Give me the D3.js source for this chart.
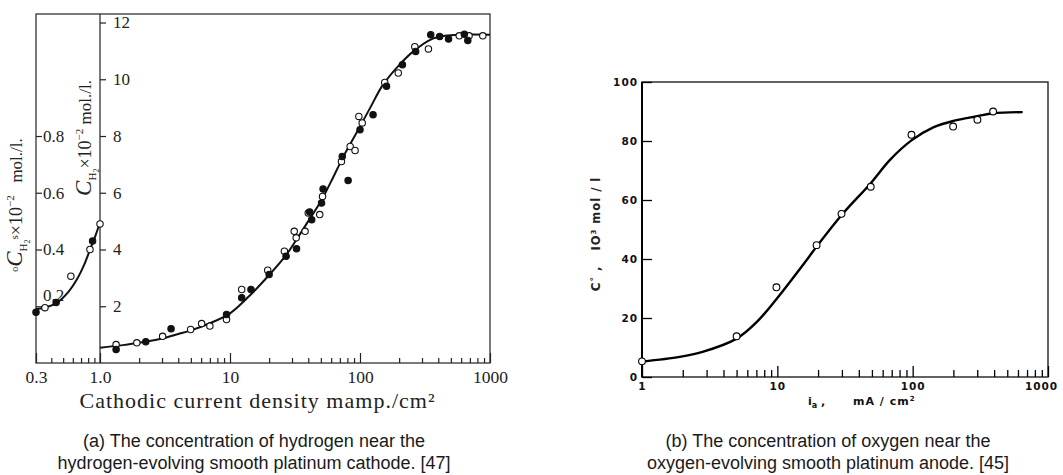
<!DOCTYPE html>
<html>
<head>
<meta charset="utf-8">
<title>Hydrogen and oxygen near platinum electrodes</title>
<script src="https://cdnjs.cloudflare.com/ajax/libs/d3/7.8.5/d3.min.js"></script>
<style>
  body { margin: 0; background: #fff; }
  svg { display: block; }
</style>
</head>
<body>
<svg id="chart" width="1063" height="475"></svg>
<script>
// ---- data ----
// panel (a), low part 0.3 - 1.0 mamp/cm2 (left axis, mol/l x10^-2 scaled by 10)
var aLowCurve = [[0.3,0.19],[0.35,0.195],[0.44,0.211],[0.55,0.25],[0.65,0.296],[0.74,0.345],[0.83,0.40],[0.92,0.45],[1.0,0.495]];
var aLowOpen = [[0.355,0.195],[0.578,0.306],[0.828,0.40],[1.0,0.49]];
var aLowFilled = [[0.30,0.179],[0.438,0.213],[0.87,0.43]];

// panel (a), 1 - 1000 mamp/cm2 (inner axis)
var aCurve = [[1,0.54],[1.5,0.63],[2,0.71],[3,0.86],[4,1.02],[5,1.15],[7,1.4],[10,1.75],[14,2.35],[20,3.1],[27,3.8],[33,4.4],[40,5.0],[50,5.7],[60,6.4],[75,7.3],[95,8.15],[120,9.0],[150,9.8],[200,10.5],[260,11.0],[350,11.4],[450,11.53],[600,11.57],[1000,11.57]];
var aOpen = [[1.33,0.65],[1.92,0.71],[3.03,0.94],[4.98,1.18],[6.05,1.39],[7.0,1.30],[9.4,1.53],[12.3,2.59],[19.5,3.27],[26.2,3.94],[31.2,4.64],[32.3,4.41],[37.8,4.64],[40,5.29],[49,5.23],[51.5,5.87],[72,7.1],[84,7.63],[91.6,7.49],[98,8.69],[104,8.46],[155,9.89],[197,10.22],[264,11.15],[336,11.07],[580,11.53],[690,11.53],[880,11.53]];
var aFilled = [[1.33,0.48],[2.25,0.75],[3.52,1.21],[9.4,1.71],[12.3,2.3],[14.5,2.59],[20,3.12],[27,3.76],[32.5,4.03],[41,5.32],[42.5,5.05],[50.6,5.64],[52,6.13],[73,7.28],[81,6.43],[100,8.22],[126,8.75],[160,9.75],[212,10.51],[268,10.98],[350,11.57],[410,11.51],[480,11.42],[635,11.59],[675,11.37]];

var aXTicksLow = [0.3], aXLabelsLow = ["0.3"];
var aXTicks = [1, 10, 100, 1000], aXLabels = ["1.0", "10", "100", "1000"];
var aYTicksLow = [0.2, 0.4, 0.6, 0.8];
var aYTicks = [2, 4, 6, 8, 10, 12];

// panel (b)
var bCurve = [[1,5.2],[1.9,6.8],[2.8,8.5],[5,13],[7,18.5],[10,26.8],[16.8,40.2],[19.5,44.2],[30,55],[49,65.7],[68,73.6],[98,80.2],[142,84.6],[200,86.8],[300,88.4],[393,89.4],[650,89.8]];
var bOpen = [[1,5.3],[5,13.8],[9.85,30.4],[19.5,44.7],[29.8,55.3],[49,64.5],[98,82.1],[199,84.9],[301,87.2],[393,90.0]];
var bXTicks = [1, 10, 100, 1000], bXLabels = ["1", "10", "100", "1000"];
var bYTicks = [0, 20, 40, 60, 80, 100];

var captionA = ["(a) The concentration of hydrogen near the", "hydrogen-evolving smooth platinum cathode. [47]"];
var captionB = ["(b) The concentration of oxygen near the", "oxygen-evolving smooth platinum anode. [45]"];

var svg = d3.select("#chart");
var serif = "'Liberation Serif', 'DejaVu Serif', serif";
var sans = "'Liberation Sans', Arial, sans-serif";
var bold = "'DejaVu Sans', sans-serif";

function isPow10(d) { return Math.abs(Math.log10(d) - Math.round(Math.log10(d))) < 1e-9; }

// ================= panel (a) =================
var xLow = d3.scaleLog().domain([0.3, 1]).range([36, 100]);
var xHigh = d3.scaleLog().domain([1, 1000]).range([100, 490]);
var yHigh = d3.scaleLinear().domain([0, 12.3]).range([363, 14]);
var yLow = d3.scaleLinear().domain([0, 1.23]).range([363, 14]);

var ga = svg.append("g").style("color", "#222");

// frame
ga.append("rect")
  .attr("x", xLow.range()[0]).attr("y", yHigh.range()[1])
  .attr("width", xHigh.range()[1] - xLow.range()[0])
  .attr("height", yHigh.range()[0] - yHigh.range()[1])
  .attr("fill", "none").attr("stroke", "#333").attr("stroke-width", 1.3);
// inner axis at 1.0
ga.append("line")
  .attr("x1", xHigh(1)).attr("x2", xHigh(1))
  .attr("y1", yHigh.range()[0]).attr("y2", yHigh.range()[1])
  .attr("stroke", "#333").attr("stroke-width", 1.3);

function styleAxis(g, size, family) {
  g.select(".domain").remove();
  g.attr("font-size", null).attr("font-family", null);
  g.selectAll("text").style("font-size", size + "px").style("font-family", family).attr("fill", "#222");
  g.selectAll("line").attr("stroke-width", 1.2);
}

var y0a = yHigh.range()[0];
// bottom minor ticks
ga.append("g").attr("transform", "translate(0," + y0a + ")")
  .call(d3.axisBottom(xLow).tickValues(xLow.ticks().filter(function (d) { return d > 0.3 && d < 1; })).tickSize(-5).tickFormat(""))
  .call(function (g) { styleAxis(g, 16, serif); });
ga.append("g").attr("transform", "translate(0," + y0a + ")")
  .call(d3.axisBottom(xHigh).tickValues(xHigh.ticks().filter(function (d) { return !isPow10(d); })).tickSize(-5).tickFormat(""))
  .call(function (g) { styleAxis(g, 16, serif); });
// bottom major ticks + labels
ga.append("g").attr("transform", "translate(0," + y0a + ")")
  .call(d3.axisBottom(xLow).tickValues(aXTicksLow).tickSize(-10).tickPadding(8).tickFormat(function (d, i) { return aXLabelsLow[i]; }))
  .call(function (g) { styleAxis(g, 17.5, serif); });
ga.append("g").attr("transform", "translate(0," + y0a + ")")
  .call(d3.axisBottom(xHigh).tickValues(aXTicks).tickSize(-10).tickPadding(8).tickFormat(function (d, i) { return aXLabels[i]; }))
  .call(function (g) { styleAxis(g, 17.5, serif); });

// left axis (low part)
ga.append("g").attr("transform", "translate(" + xLow.range()[0] + ",0)")
  .call(d3.axisRight(yLow).tickValues(aYTicksLow).tickSize(6).tickPadding(1).tickFormat(d3.format(".1f")))
  .call(function (g) {
    styleAxis(g, 17, serif);
    g.selectAll(".tick text").filter(function (d) { return d === 0.2; }).attr("y", -11);
  });
// inner axis
ga.append("g").attr("transform", "translate(" + xHigh(1) + ",0)")
  .call(d3.axisRight(yHigh).tickValues(aYTicks).tickSize(6).tickPadding(7))
  .call(function (g) { styleAxis(g, 17, serif); });

// curves
var smooth = d3.curveCatmullRom.alpha(0.5);
var lineLow = d3.line().x(function (d) { return xLow(d[0]); }).y(function (d) { return yLow(d[1]); }).curve(smooth);
var lineHigh = d3.line().x(function (d) { return xHigh(d[0]); }).y(function (d) { return yHigh(d[1]); }).curve(smooth);
ga.append("path").attr("d", lineLow(aLowCurve)).attr("fill", "none").attr("stroke", "#111").attr("stroke-width", 2);
ga.append("path").attr("d", lineHigh(aCurve)).attr("fill", "none").attr("stroke", "#111").attr("stroke-width", 2);

function dots(g, data, x, y, filled, r) {
  g.append("g").selectAll("circle").data(data).enter().append("circle")
    .attr("cx", function (d) { return x(d[0]); })
    .attr("cy", function (d) { return y(d[1]); })
    .attr("r", r)
    .attr("fill", filled ? "#111" : "#fff")
    .attr("stroke", "#111").attr("stroke-width", 1.1);
}
dots(ga, aLowOpen, xLow, yLow, false, 3.2);
dots(ga, aLowFilled, xLow, yLow, true, 3.2);
dots(ga, aOpen, xHigh, yHigh, false, 3.2);
dots(ga, aFilled, xHigh, yHigh, true, 3.2);

// axis titles (a)
function rotLabel(g, cx, cy, parts, family) {
  var t = g.append("text")
    .attr("transform", "translate(" + cx + "," + cy + ") rotate(-90)")
    .attr("text-anchor", "middle")
    .style("font-family", family).attr("fill", "#222");
  parts.forEach(function (p) {
    t.append("tspan").text(p[0]).style("font-size", p[1] + "px")
      .attr("dy", p[2]).style("font-style", p[3] || "normal")
      .style("font-weight", p[4] || "normal");
  });
  return t;
}
rotLabel(ga, 91, 138, [
  ["C", 23, 0, "italic"], ["H", 11, 5], ["2", 8, 3],
  ["\u00d710", 18, -8], ["\u22122", 11, -8], ["\u00a0mol./l.", 17, 8]
], serif);
rotLabel(ga, 22, 205, [
  ["o", 10, -4], ["C", 23, 4, "italic"], ["H", 11, 5], ["2", 8, 3], ["s", 11, -12],
  ["\u00d710", 18, 4], ["\u22122", 11, -8], ["\u00a0\u00a0\u00a0mol./l.", 17, 8]
], serif);

ga.append("text")
  .attr("x", 257).attr("y", 408)
  .attr("text-anchor", "middle")
  .attr("textLength", 355).attr("lengthAdjust", "spacing")
  .style("font-family", serif).style("font-size", "22px").attr("fill", "#222")
  .text("Cathodic current density mamp./cm\u00b2");

// ================= panel (b) =================
var xB = d3.scaleLog().domain([1, 1000]).range([642, 1048]);
var yB = d3.scaleLinear().domain([0, 100]).range([377, 82]);
var gb = svg.append("g").style("color", "#000");

gb.append("rect")
  .attr("x", xB.range()[0]).attr("y", yB.range()[1])
  .attr("width", xB.range()[1] - xB.range()[0])
  .attr("height", yB.range()[0] - yB.range()[1])
  .attr("fill", "none").attr("stroke", "#222").attr("stroke-width", 1.4);
gb.append("line")
  .attr("x1", xB.range()[0]).attr("x2", xB.range()[0])
  .attr("y1", yB.range()[0]).attr("y2", yB.range()[1])
  .attr("stroke", "#000").attr("stroke-width", 2);

function styleB(g) {
  g.select(".domain").remove();
  g.attr("font-size", null).attr("font-family", null);
  g.selectAll("text").style("font-size", "10.5px").style("font-family", bold)
    .style("font-weight", "bold").style("letter-spacing", "1px").attr("fill", "#111");
  g.selectAll("line").attr("stroke-width", 1.3);
}
gb.append("g").attr("transform", "translate(0," + yB.range()[0] + ")")
  .call(d3.axisBottom(xB).tickValues(xB.ticks().filter(function (d) { return !isPow10(d); })).tickSize(-7).tickFormat(""))
  .call(styleB);
gb.append("g").attr("transform", "translate(0," + yB.range()[0] + ")")
  .call(d3.axisBottom(xB).tickValues(bXTicks).tickSize(-11).tickPadding(6).tickFormat(function (d, i) { return bXLabels[i]; }))
  .call(styleB)
  .call(function (g) {
    // last label sits against the page edge
    g.selectAll(".tick text").filter(function (d) { return d === 1000; }).attr("x", -7);
  });
gb.append("g").attr("transform", "translate(" + xB.range()[0] + ",0)")
  .call(d3.axisLeft(yB).tickValues(bYTicks).tickSize(-10).tickPadding(4))
  .call(styleB);

var lineB = d3.line().x(function (d) { return xB(d[0]); }).y(function (d) { return yB(d[1]); }).curve(smooth);
gb.append("path").attr("d", lineB(bCurve)).attr("fill", "none").attr("stroke", "#000").attr("stroke-width", 2.4);
gb.append("g").selectAll("circle").data(bOpen).enter().append("circle")
  .attr("cx", function (d) { return xB(d[0]); })
  .attr("cy", function (d) { return yB(d[1]); })
  .attr("r", 3.4).attr("fill", "#fff").attr("stroke", "#000").attr("stroke-width", 1.1);

rotLabel(gb, 600, 234, [
  ["C", 12, 0, "normal", "bold"], ["\u00b0", 9, -3, "normal", "bold"],
  ["\u00a0,\u00a0\u00a0\u00a0IO", 11.5, 3, "normal", "bold"], ["3", 7, -4, "normal", "bold"],
  ["\u00a0mol / l", 11.5, 4, "normal", "bold"]
], bold).style("letter-spacing", "1px");

gb.append("text").attr("x", 808).attr("y", 405)
  .style("font-family", bold).style("font-weight", "bold").style("font-size", "11px").attr("fill", "#111")
  .text("i").append("tspan").attr("dy", 3).style("font-size", "8px").text("a")
  .append("tspan").attr("dy", -3).style("font-size", "11px").text(" ,");
gb.append("text").attr("x", 853).attr("y", 405)
  .style("font-family", bold).style("font-weight", "bold").style("font-size", "11px").attr("fill", "#111")
  .style("letter-spacing", "1px")
  .text("mA / cm").append("tspan").attr("dy", -4).style("font-size", "7px").text("2");

// ================= captions =================
function caption(lines, cx) {
  svg.append("g").selectAll("text").data(lines).enter().append("text")
    .attr("x", cx).attr("y", function (d, i) { return 447 + i * 22; })
    .attr("text-anchor", "middle")
    .style("font-family", sans).style("font-size", "18px").attr("fill", "#1a1a1a")
    .text(function (d) { return d; });
}
caption(captionA, 254);
caption(captionB, 828);
</script>
</body>
</html>
